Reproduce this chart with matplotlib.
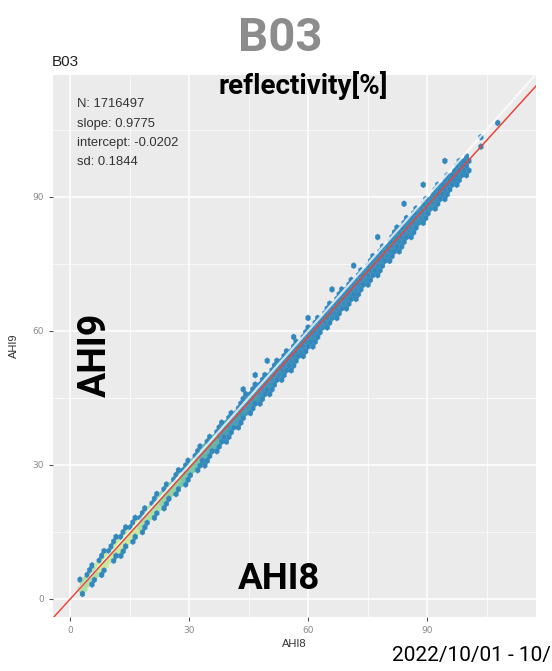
import numpy as np
import matplotlib.pyplot as plt
from matplotlib.colors import LinearSegmentedColormap

# band of the AHI8 / AHI9 cloud, read per 5-unit segment along AHI8
seg_start = [2.5, 7, 12, 17, 22, 27, 32, 37, 42, 47, 52, 57, 62, 67, 72, 77, 82, 87, 92, 97]
seg_end = [7, 12, 17, 22, 27, 32, 37, 42, 47, 52, 57, 62, 67, 72, 77, 82, 87, 92, 97, 100.5]
# offset of lower / upper edge of the band from the fitted line
seg_lo = [-1.2, -1.5, -2.0, -2.0, -2.0, -2.0, -2.5, -2.5, -2.0, -2.5, -2.5, -2.5, -2.0, -2.5, -2.5, -2.5, -2.5, -2.0, -2.0, -2.0]
seg_hi = [1.5, 1.8, 1.8, 1.5, 1.5, 1.5, 1.5, 1.5, 2.0, 1.8, 1.8, 1.5, 1.5, 1.8, 1.5, 1.5, 1.8, 1.5, 1.5, 1.5]
# relative density at the centre of the band
seg_core = [3.0, 3.5, 3.5, 3.0, 2.6, 2.2, 1.8, 1.4, 1.3, 1.2, 1.1, 1.1, 1.1, 1.1, 1.1, 1.1, 1.1, 1.1, 1.0, 1.0]

# sparse cells above the band
out_x = [44, 47, 50, 56, 60, 66, 72, 78, 84, 89, 95, 103, 104, 108]
out_y = [46.5, 50.5, 53, 58.5, 62.5, 69, 74.5, 81, 88, 93, 98, 101.5, 103, 106.5]

n_obs = 1716497
slope = 0.9775
intercept = -0.0202
sd = 0.1844

xs, ys, cs = [], [], []
for a, b, lo, hi, core in zip(seg_start, seg_end, seg_lo, seg_hi, seg_core):
    for x in np.arange(a, b, 0.3):
        for d in np.arange(lo, hi + 0.01, 0.3):
            xs.append(x)
            ys.append(slope * x + intercept + d)
            cs.append(core if abs(d + 0.2) < 0.6 else 1.0)
xs += out_x
ys += out_y
cs += [1.0] * len(out_x)

cmap = LinearSegmentedColormap.from_list(
    'spec', ['#3288BD', '#66C2A5', '#ABDDA4', '#E6F598', '#FEE08B'])

fig = plt.figure(figsize=(5.52, 6.71), dpi=100)
ax = fig.add_axes([53 / 552, 1 - 617 / 671, (536 - 53) / 552, (617 - 75) / 671])
ax.set_facecolor('#EBEBEB')
for s in ax.spines.values():
    s.set_visible(False)

ax.set_xlim(-4.4, 117.4)
ax.set_ylim(-4.1, 117.2)
ax.set_xticks([0, 30, 60, 90])
ax.set_yticks([0, 30, 60, 90])
ax.set_xticks([15, 45, 75, 105], minor=True)
ax.set_yticks([15, 45, 75, 105], minor=True)
ax.grid(True, which='major', color='white', lw=1.1)
ax.grid(True, which='minor', color='white', lw=0.5)
ax.set_axisbelow(True)
ax.tick_params(which='major', length=3, color='#555555', labelcolor='#8A8A8A', labelsize=6.5)
ax.tick_params(which='minor', length=0)

ax.hexbin(xs, ys, C=cs, reduce_C_function=np.max, gridsize=95,
          extent=(0, 115, 0, 115), cmap=cmap, vmin=1, vmax=5,
          linewidths=0.2, edgecolors='face', zorder=2)

lx = np.array([-5, 118])
ax.plot(lx, lx, color='white', lw=1.6, alpha=0.75, zorder=3)
ax.plot(lx, slope * lx + intercept, color='#E8453C', lw=1.1, zorder=4)

ax.set_xlabel('AHI8', fontsize=8, color='#333333', family='Liberation Sans', labelpad=3)
ax.set_ylabel('AHI9', fontsize=8, color='#333333', family='Liberation Sans', labelpad=10)

stats = [f'N: {n_obs}', f'slope: {slope:.4f}', f'intercept: {intercept:.4f}', f'sd: {sd:.4f}']
for i, s in enumerate(stats):
    fig.text(77 / 552, 1 - (104 + i * 19.5) / 671, s, fontsize=9.4, color='#333333',
             family='Liberation Sans', va='center', ha='left')

fig.text(52 / 552, 1 - 62 / 671, 'B03', fontsize=11, color='#222222',
         family='Liberation Sans', va='center', ha='left')

fig.text(280 / 552, 1 - 38 / 671, 'B03', fontsize=34, color='#8C8C8C',
         family='Roboto', weight='bold', va='center', ha='center')
fig.text(303 / 552, 1 - 86 / 671, 'reflectivity[%]', fontsize=20, color='black',
         family='Roboto', weight='bold', va='center', ha='center')
fig.text(95 / 552, 1 - 355 / 671, 'AHI9', fontsize=27, color='black', rotation=90,
         family='Roboto', weight='bold', va='center', ha='center')
fig.text(279 / 552, 1 - 579 / 671, 'AHI8', fontsize=26.5, color='black',
         family='Roboto', weight='bold', va='center', ha='center')
fig.text(551 / 552, 1 - 656 / 671, '2022/10/01 - 10/', fontsize=15, color='black',
         family='Roboto', va='center', ha='right')

fig.savefig('out.png', dpi=100)
